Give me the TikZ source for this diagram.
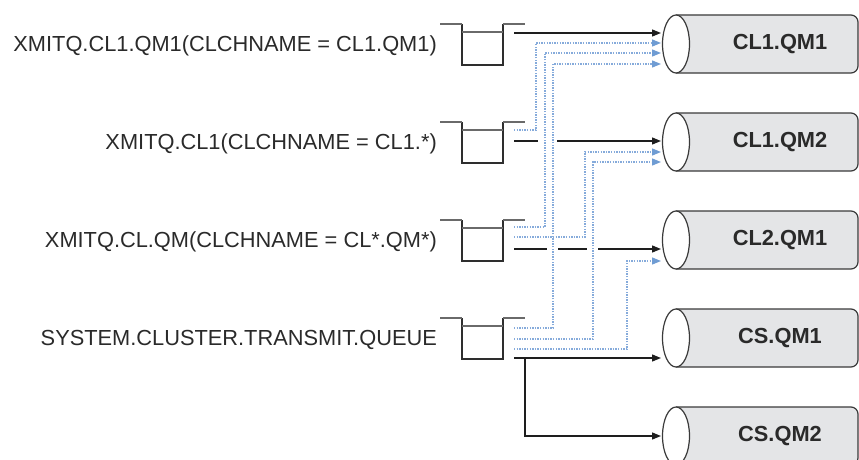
\documentclass[tikz,border=0pt]{standalone}
\usepackage{fontspec}
\setmainfont{Liberation Sans}
\usetikzlibrary{arrows.meta}
\definecolor{qwallc}{HTML}{2E2E2E}
\definecolor{qtopc}{HTML}{6A6A6A}
\definecolor{blk}{HTML}{1E1E1E}
\definecolor{pot}{HTML}{86ABDB}
\definecolor{pottip}{HTML}{6F9CD3}
\definecolor{cylfill}{HTML}{E4E5E7}
\definecolor{cylline}{HTML}{3A3A3A}
\definecolor{txt}{HTML}{2A2A2A}
\begin{document}
\begin{tikzpicture}[x=1pt,y=-1pt,
  lbl/.style={anchor=base east, inner sep=0pt, font=\fontsize{21.8}{26}\selectfont, text=txt},
  cyllbl/.style={inner sep=0pt, font=\bfseries\fontsize{21.8}{26}\selectfont, text=txt},
  route/.style={draw=blk, line width=1.3pt, -{Triangle[length=9pt,width=7pt]}},
  potential/.style={draw=pot, line width=1.25pt, dash pattern=on 1.4pt off 1.2pt, -{Triangle[length=9pt,width=7pt,color=pottip]}},
  qwall/.style={draw=qwallc, line width=1.4pt},
  qtop/.style={draw=qtopc, line width=1.3pt},
  gap/.style={draw=white, line width=4pt}
]
\useasboundingbox (0,0) rectangle (859,460);
\clip (0,0) rectangle (859,460);

% cylinders (queue managers)
\foreach \c/\t/\n in {44/CL1.QM1/cA, 142/CL1.QM2/cB, 240/CL2.QM1/cC, 338/CS.QM1/cD, 436/CS.QM2/cE} {
  \path[fill=cylfill, draw=cylline, line width=1.2pt, rounded corners=7pt]
    (676,{\c-29}) -- (858,{\c-29}) -- (858,{\c+29}) -- (676,{\c+29});
  \filldraw[fill=white, draw=cylline, line width=1.2pt] (676,\c) ellipse [x radius=13.5, y radius=29];
  \node[cyllbl] (\n) at (780,\c) {\t};
}

% transmission queues
\foreach \c in {44,142,240,338} {
  \draw[qwall] (462,{\c-20}) -- (462,{\c+21}) -- (503,{\c+21}) -- (503,{\c-20});
  \draw[qtop] (440,{\c-20}) -- (462,{\c-20}) (503,{\c-20}) -- (525,{\c-20});
  \draw[qtop] (462,{\c-12}) -- (503,{\c-12});
}

% labels
\node[lbl] (l1) at (437,51.5) {XMITQ.CL1.QM1(CLCHNAME = CL1.QM1)};
\node[lbl] (l2) at (437,149.5) {XMITQ.CL1(CLCHNAME = CL1.*)};
\node[lbl] (l3) at (437,247.5) {XMITQ.CL.QM(CLCHNAME = CL*.QM*)};
\node[lbl] (l4) at (437,345.5) {SYSTEM.CLUSTER.TRANSMIT.QUEUE};

% queue exits
\coordinate (q1a) at (514,33);
\coordinate (q2a) at (514,130);
\coordinate (q2b) at (514,141);
\coordinate (q3a) at (514,227);
\coordinate (q3b) at (514,237);
\coordinate (q3c) at (514,249);
\coordinate (q4a) at (514,328);
\coordinate (q4b) at (514,339);
\coordinate (q4c) at (514,349);
\coordinate (q4d) at (514,358);
% arrival points
\coordinate (tA1) at (661,33);
\coordinate (tA2) at (661,43);
\coordinate (tA3) at (661,53);
\coordinate (tA4) at (661,64);
\coordinate (tB1) at (661,141);
\coordinate (tB2) at (661,152);
\coordinate (tB3) at (661,162);
\coordinate (tC1) at (661,249);
\coordinate (tC2) at (661,261);
\coordinate (tD1) at (661,358);
\coordinate (tE1) at (661,436);

% actual routes
\draw[route] (q1a) -- (tA1);
\draw[route] (q2b) -- (tB1);
\draw[route] (q3c) -- (tC1);
\draw[route] (q4d) -- (tD1);
\draw[route] ([xshift=11pt]q4d) |- (tE1);

% bridges
\draw[gap] (538,141) -- (557,141);
\draw[gap] (547,249) -- (558,249);
\draw[gap] (587,249) -- (598,249);

% potential routes
\draw[potential] (q2a) -- ++(22,0) |- (tA2);
\draw[potential] (q3a) -- ++(31,0) |- (tA3);
\draw[potential] (q4a) -- ++(39,0) |- (tA4);
\draw[potential] (q3b) -- ++(71,0) |- (tB2);
\draw[potential] (q4b) -- ++(79,0) |- (tB3);
\draw[potential] (q4c) -- ++(113,0) |- (tC2);
\end{tikzpicture}
\end{document}
